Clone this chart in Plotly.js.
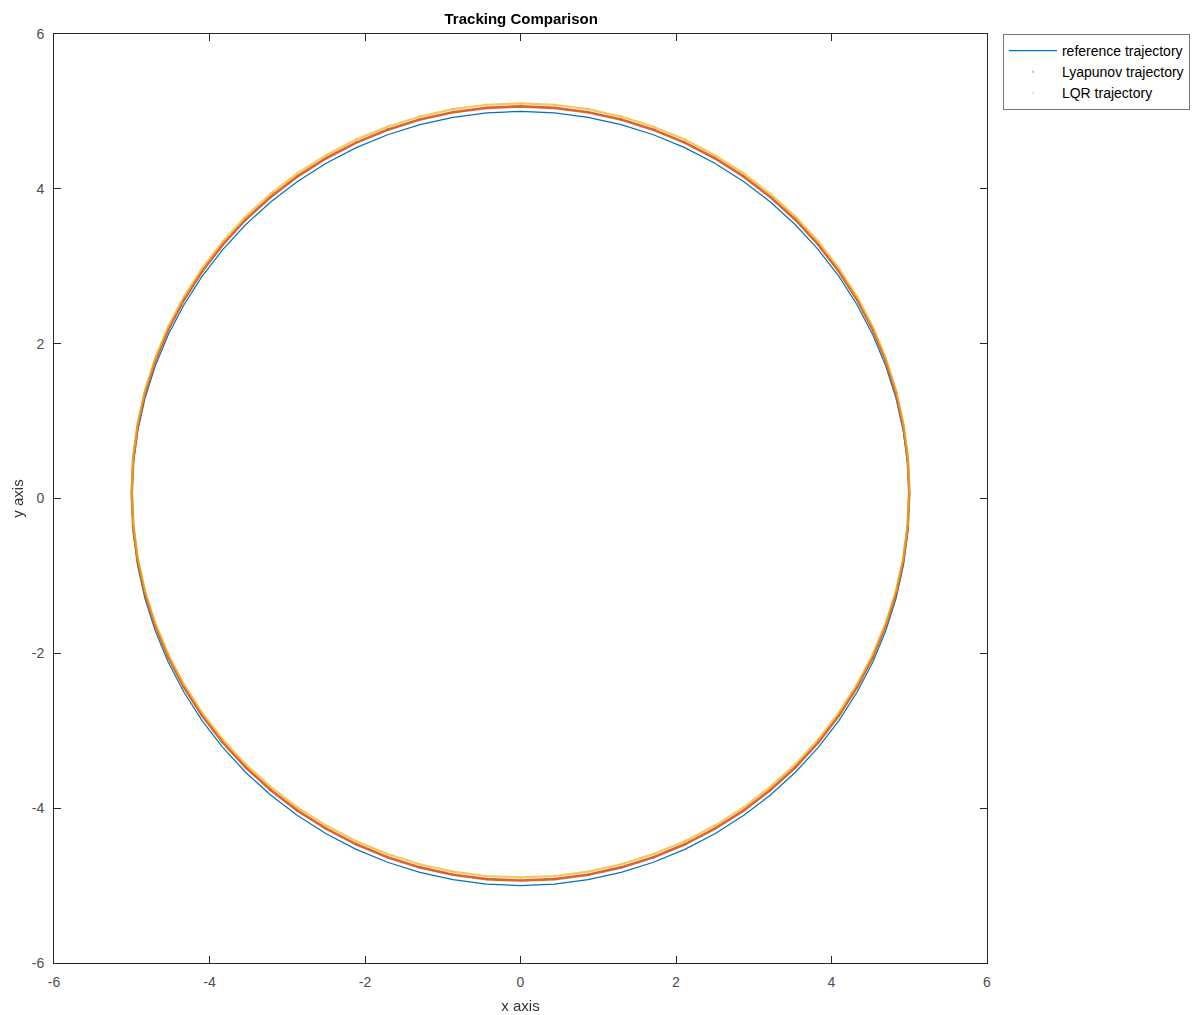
<!DOCTYPE html>
<html>
<head>
<meta charset="utf-8">
<script src="https://cdn.plot.ly/plotly-3.0.1.min.js"></script>
<style>html,body{margin:0;padding:0;background:#fff;}#chart{width:1201px;height:1015px;}</style>
</head>
<body>
<div id="chart"></div>
<script>
const refX = [5, 4.981, 4.924, 4.830, 4.698, 4.532, 4.330, 4.096, 3.830, 3.536, 3.214, 2.868, 2.5, 2.113, 1.710, 1.294, 0.868, 0.436, 0,
  -0.436, -0.868, -1.294, -1.710, -2.113, -2.5, -2.868, -3.214, -3.536, -3.830, -4.096, -4.330, -4.532, -4.698, -4.830, -4.924, -4.981, -5,
  -4.981, -4.924, -4.830, -4.698, -4.532, -4.330, -4.096, -3.830, -3.536, -3.214, -2.868, -2.5, -2.113, -1.710, -1.294, -0.868, -0.436, 0,
  0.436, 0.868, 1.294, 1.710, 2.113, 2.5, 2.868, 3.214, 3.536, 3.830, 4.096, 4.330, 4.532, 4.698, 4.830, 4.924, 4.981, 5];
const refY = [0, 0.436, 0.868, 1.294, 1.710, 2.113, 2.5, 2.868, 3.214, 3.536, 3.830, 4.096, 4.330, 4.532, 4.698, 4.830, 4.924, 4.981, 5,
  4.981, 4.924, 4.830, 4.698, 4.532, 4.330, 4.096, 3.830, 3.536, 3.214, 2.868, 2.5, 2.113, 1.710, 1.294, 0.868, 0.436, 0,
  -0.436, -0.868, -1.294, -1.710, -2.113, -2.5, -2.868, -3.214, -3.536, -3.830, -4.096, -4.330, -4.532, -4.698, -4.830, -4.924, -4.981, -5,
  -4.981, -4.924, -4.830, -4.698, -4.532, -4.330, -4.096, -3.830, -3.536, -3.214, -2.868, -2.5, -2.113, -1.710, -1.294, -0.868, -0.436, 0];
// Lyapunov trajectory
const lyaX = [5, 4.981, 4.924, 4.830, 4.698, 4.532, 4.330, 4.096, 3.830, 3.536, 3.214, 2.868, 2.5, 2.113, 1.710, 1.294, 0.868, 0.436, 0,
  -0.436, -0.868, -1.294, -1.710, -2.113, -2.5, -2.868, -3.214, -3.536, -3.830, -4.096, -4.330, -4.532, -4.698, -4.830, -4.924, -4.981, -5,
  -4.981, -4.924, -4.830, -4.698, -4.532, -4.330, -4.096, -3.830, -3.536, -3.214, -2.868, -2.5, -2.113, -1.710, -1.294, -0.868, -0.436, 0,
  0.436, 0.868, 1.294, 1.710, 2.113, 2.5, 2.868, 3.214, 3.536, 3.830, 4.096, 4.330, 4.532, 4.698, 4.830, 4.924, 4.981, 5];
const lyaY = [0.065, 0.501, 0.933, 1.359, 1.775, 2.178, 2.565, 2.933, 3.279, 3.601, 3.895, 4.161, 4.395, 4.597, 4.763, 4.895, 4.989, 5.046, 5.065,
  5.046, 4.989, 4.895, 4.763, 4.597, 4.395, 4.161, 3.895, 3.601, 3.279, 2.933, 2.565, 2.178, 1.775, 1.359, 0.933, 0.501, 0.065,
  -0.371, -0.803, -1.229, -1.645, -2.048, -2.435, -2.803, -3.149, -3.471, -3.765, -4.031, -4.265, -4.467, -4.633, -4.765, -4.859, -4.916, -4.935,
  -4.916, -4.859, -4.765, -4.633, -4.467, -4.265, -4.031, -3.765, -3.471, -3.149, -2.803, -2.435, -2.048, -1.645, -1.229, -0.803, -0.371, 0.065];
// LQR trajectory
const lqrX = [5, 4.981, 4.924, 4.830, 4.698, 4.532, 4.330, 4.096, 3.830, 3.536, 3.214, 2.868, 2.5, 2.113, 1.710, 1.294, 0.868, 0.436, 0,
  -0.436, -0.868, -1.294, -1.710, -2.113, -2.5, -2.868, -3.214, -3.536, -3.830, -4.096, -4.330, -4.532, -4.698, -4.830, -4.924, -4.981, -5,
  -4.981, -4.924, -4.830, -4.698, -4.532, -4.330, -4.096, -3.830, -3.536, -3.214, -2.868, -2.5, -2.113, -1.710, -1.294, -0.868, -0.436, 0,
  0.436, 0.868, 1.294, 1.710, 2.113, 2.5, 2.868, 3.214, 3.536, 3.830, 4.096, 4.330, 4.532, 4.698, 4.830, 4.924, 4.981, 5];
const lqrY = [0.105, 0.541, 0.973, 1.399, 1.815, 2.218, 2.605, 2.973, 3.319, 3.641, 3.935, 4.201, 4.435, 4.637, 4.803, 4.935, 5.029, 5.086, 5.105,
  5.086, 5.029, 4.935, 4.803, 4.637, 4.435, 4.201, 3.935, 3.641, 3.319, 2.973, 2.605, 2.218, 1.815, 1.399, 0.973, 0.541, 0.105,
  -0.331, -0.763, -1.189, -1.605, -2.008, -2.395, -2.763, -3.109, -3.431, -3.725, -3.991, -4.225, -4.427, -4.593, -4.725, -4.819, -4.876, -4.895,
  -4.876, -4.819, -4.725, -4.593, -4.427, -4.225, -3.991, -3.725, -3.431, -3.109, -2.763, -2.395, -2.008, -1.605, -1.189, -0.763, -0.331, 0.105];
const tickVals = [-6, -4, -2, 0, 2, 4, 6];
const tickText = ['-6', '-4', '-2', '0', '2', '4', '6'];

const FONT = 'Liberation Sans, Arial, sans-serif';
const traces = [
  {x: refX, y: refY, mode: 'lines', name: 'reference trajectory',
   line: {color: '#0072BD', width: 1.2}},
  {x: lyaX, y: lyaY, mode: 'lines', showlegend: false, hoverinfo: 'skip',
   line: {color: '#D95319', width: 2.6}, opacity: 0.9},
  {x: lyaX, y: lyaY, mode: 'markers', name: 'Lyapunov trajectory',
   marker: {color: '#D95319', size: 2.5}, opacity: 0.4},
  {x: lqrX, y: lqrY, mode: 'lines', showlegend: false, hoverinfo: 'skip',
   line: {color: '#EDB120', width: 2.2}, opacity: 0.7},
  {x: lqrX, y: lqrY, mode: 'markers', name: 'LQR trajectory',
   marker: {color: '#EDB120', size: 2.5}, opacity: 0.35}
];

const axisCommon = {
  range: [-6, 6], tickmode: 'array', tickvals: tickVals, ticktext: tickText,
  ticks: 'inside', ticklen: 7, tickcolor: '#262626', tickwidth: 1,
  showline: true, linecolor: '#262626', linewidth: 1, mirror: 'ticks',
  showgrid: false, zeroline: false,
  tickfont: {family: FONT, size: 14, color: '#4d4d4d'}
};

const layout = {
  width: 1201, height: 1015,
  margin: {l: 54, r: 213, t: 34, b: 52},
  paper_bgcolor: '#fff', plot_bgcolor: '#fff',
  title: {text: '<b>Tracking Comparison</b>', x: 0.434, xanchor: 'center', y: 0.982, yanchor: 'middle',
    font: {family: FONT, size: 15, color: '#000'}},
  xaxis: Object.assign({}, axisCommon, {
    ticklabelstandoff: 6,
    title: {text: 'x axis', standoff: 11, font: {family: FONT, size: 15, color: '#333'}}
  }),
  yaxis: Object.assign({}, axisCommon, {
    ticklabelstandoff: 6,
    title: {text: 'y axis', standoff: 4, font: {family: FONT, size: 15, color: '#333'}}
  }),
  legend: {x: 1.016, xanchor: 'left', y: 1.0, yanchor: 'top',
    bordercolor: '#777', borderwidth: 1, bgcolor: '#fff',
    font: {family: FONT, size: 14, color: '#000'},
    tracegroupgap: 0, itemwidth: 48},
  showlegend: true
};

Plotly.newPlot('chart', traces, layout, {displayModeBar: false, staticPlot: true});
</script>
</body>
</html>
